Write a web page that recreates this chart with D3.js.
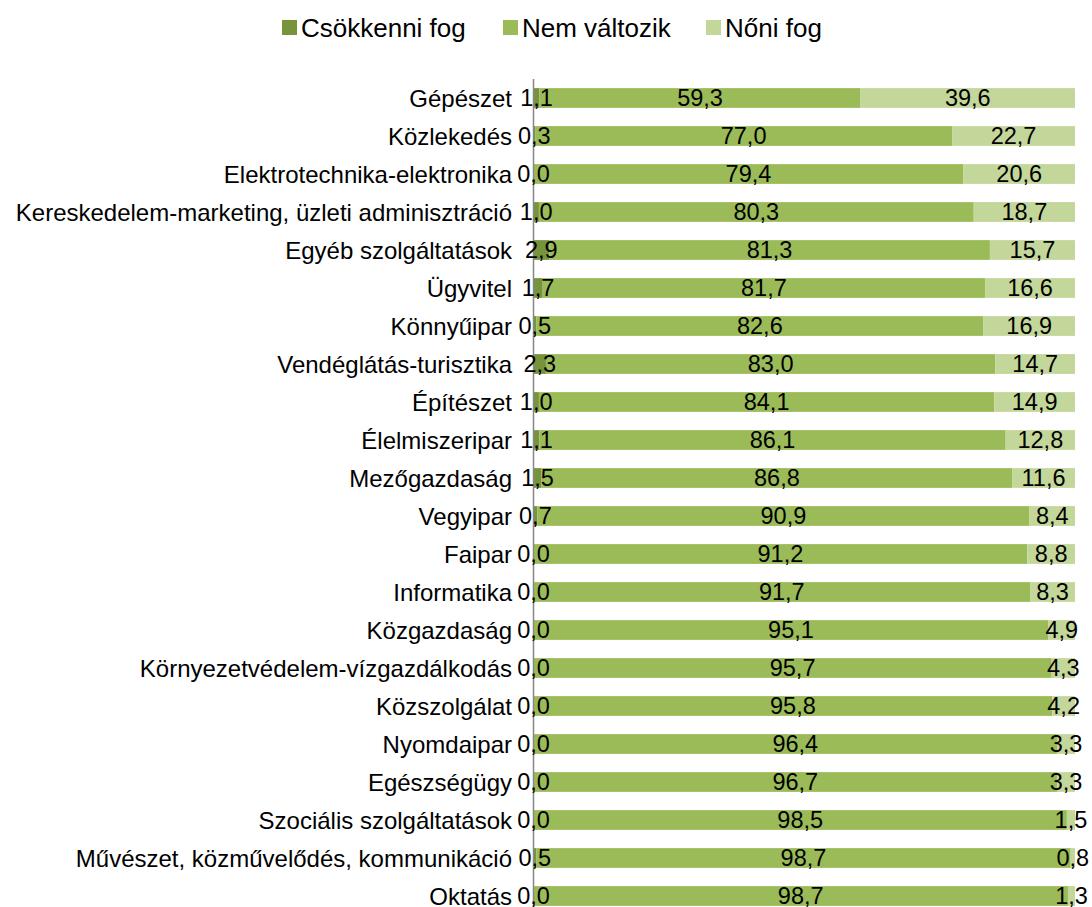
<!DOCTYPE html>
<html>
<head>
<meta charset="utf-8">
<script src="https://cdn.jsdelivr.net/npm/d3@7"></script>
<style>
  body { margin: 0; background: #fff; }
  svg { display: block; font-family: "Liberation Sans", Arial, sans-serif; }
</style>
</head>
<body>
<svg id="chart"></svg>
<script>
    var w = 1092;
    var h = 907;

    // chart data
    var categories = ["Gépészet", "Közlekedés", "Elektrotechnika-elektronika",
      "Kereskedelem-marketing, üzleti adminisztráció", "Egyéb szolgáltatások", "Ügyvitel",
      "Könnyűipar", "Vendéglátás-turisztika", "Építészet", "Élelmiszeripar", "Mezőgazdaság",
      "Vegyipar", "Faipar", "Informatika", "Közgazdaság", "Környezetvédelem-vízgazdálkodás",
      "Közszolgálat", "Nyomdaipar", "Egészségügy", "Szociális szolgáltatások",
      "Művészet, közművelődés, kommunikáció", "Oktatás"];
    var seriesNames = ["Csökkenni fog", "Nem változik", "Nőni fog"];
    var csokkenni = [1.1, 0.3, 0.0, 1.0, 2.9, 1.7, 0.5, 2.3, 1.0, 1.1, 1.5, 0.7, 0.0, 0.0, 0.0, 0.0, 0.0, 0.0, 0.0, 0.0, 0.5, 0.0];
    var nemValtozik = [59.3, 77.0, 79.4, 80.3, 81.3, 81.7, 82.6, 83.0, 84.1, 86.1, 86.8, 90.9, 91.2, 91.7, 95.1, 95.7, 95.8, 96.4, 96.7, 98.5, 98.7, 98.7];
    var noni = [39.6, 22.7, 20.6, 18.7, 15.7, 16.6, 16.9, 14.7, 14.9, 12.8, 11.6, 8.4, 8.8, 8.3, 4.9, 4.3, 4.2, 3.3, 3.3, 1.5, 0.8, 1.3];

    var colors = ["#77933C", "#9BBB59", "#C4D79B"];

    var rows = categories.map(function(c, i) {
      return {cat: c, s0: csokkenni[i], s1: nemValtozik[i], s2: noni[i]};
    });

    // 100% stacked, like the original
    var stack = d3.stack()
      .keys(["s0", "s1", "s2"])
      .offset(d3.stackOffsetExpand);
    var series = stack(rows);

    var x = d3.scaleLinear().domain([0, 1]).range([533.5, 1075]);
    var y = d3.scaleBand()
      .domain(categories)
      .range([79, 915])
      .paddingInner(0.48)
      .paddingOuter(0.24);

    var fmt = function(v) { return d3.format(".1f")(v).replace(".", ","); };

    var svg = d3.select("#chart").attr("width", w).attr("height", h);

    // bars
    var groups = svg.selectAll("g.series")
      .data(series)
      .enter()
      .append("g")
      .attr("class", "series")
      .style("fill", function(d, i) { return colors[i]; });

    groups.selectAll("rect")
      .data(function(d) { return d; })
      .enter()
      .append("rect")
      .attr("x", function(d) { return x(d[0]); })
      .attr("y", function(d) { return y(d.data.cat); })
      .attr("width", function(d) { return x(d[1]) - x(d[0]); })
      .attr("height", y.bandwidth());

    // category axis
    svg.append("line")
      .attr("x1", x(0)).attr("x2", x(0))
      .attr("y1", y.range()[0]).attr("y2", y.range()[1])
      .style("stroke", "#868686")
      .style("stroke-width", 1.5);

    // value labels on top of all bars, centered in each segment
    var labels = [];
    series.forEach(function(s) {
      s.forEach(function(p) { labels.push({key: s.key, p: p}); });
    });
    svg.append("g").selectAll("text")
      .data(labels)
      .enter()
      .append("text")
      .attr("x", function(d) { return (x(d.p[0]) + x(d.p[1])) / 2; })
      .attr("y", function(d) { return y(d.p.data.cat) + y.bandwidth() / 2; })
      .attr("dy", "0.36em")
      .attr("text-anchor", "middle")
      .style("fill", "#000")
      .style("font-size", "23.5px")
      .text(function(d) { return fmt(d.p.data[d.key]); });

    svg.selectAll("text.cat")
      .data(categories)
      .enter()
      .append("text")
      .attr("class", "cat")
      .attr("x", 512)
      .attr("y", function(d) { return y(d) + y.bandwidth() / 2; })
      .attr("dy", "0.36em")
      .attr("text-anchor", "end")
      .style("font-size", "24px")
      .text(function(d) { return d; });

    // legend
    var legendX = [282, 503, 706];
    var legend = svg.selectAll("g.legend")
      .data(seriesNames)
      .enter()
      .append("g")
      .attr("class", "legend")
      .attr("transform", function(d, i) { return "translate(" + legendX[i] + ",20)"; });
    legend.append("rect")
      .attr("width", 15).attr("height", 15)
      .style("fill", function(d, i) { return colors[i]; });
    legend.append("text")
      .attr("x", 19)
      .attr("y", 8)
      .attr("dy", "0.36em")
      .style("font-size", "26px")
      .text(function(d) { return d; });
</script>
</body>
</html>
